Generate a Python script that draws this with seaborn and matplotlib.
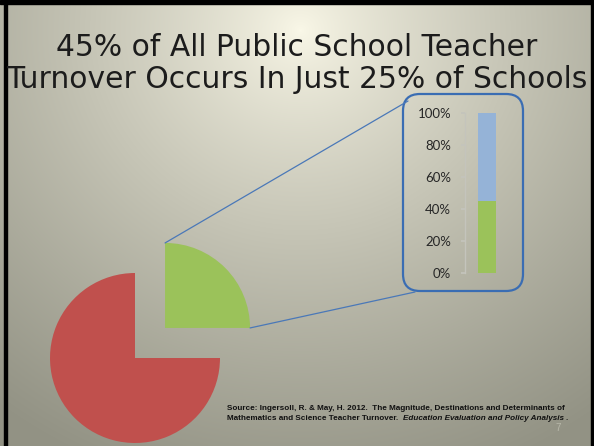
import numpy as np
import pandas as pd
import matplotlib
matplotlib.use("Agg")
import matplotlib.pyplot as plt
import seaborn as sns
from matplotlib.patches import FancyBboxPatch, Rectangle, ConnectionPatch

# ---- data ----
pie_labels = ["Top 25% of schools", "Other 75% of schools"]
pie_values = [25, 75]
bar_category = ["Turnover"]
share_in_top_schools = [0.45]
share_total = [1.00]
ytick_values = [0.0, 0.2, 0.4, 0.6, 0.8, 1.0]
ytick_labels = ["0%", "20%", "40%", "60%", "80%", "100%"]
title_lines = ["45% of All Public School Teacher",
               "Turnover Occurs In Just 25% of Schools"]
source_line1 = "Source: Ingersoll, R. & May, H. 2012.  The Magnitude, Destinations and Determinants of"
source_line2a = "Mathematics and Science Teacher Turnover.  "
source_line2b = "Education Evaluation and Policy Analysis ."

RED = "#c0504d"
GREEN = "#9bc25a"
BLUE = "#95b3d7"
LINE_BLUE = "#4a78b8"

sns.set_theme(style="white")
plt.rcParams["font.family"] = ["Liberation Sans", "DejaVu Sans"]

W, H = 594, 446
fig = plt.figure(figsize=(W / 100, H / 100), dpi=100)

def fx(px):
    return px / W

def fy(py):
    return 1 - py / H

# ---- background gradient ----
bg = fig.add_axes([0, 0, 1, 1], zorder=0)
yy, xx = np.mgrid[0:H, 0:W]
d = np.sqrt(((xx - 300) / 1.0) ** 2 + ((yy - 30) / 0.95) ** 2)
t = np.clip(d / 500.0, 0, 1) ** 0.8
c0 = np.array([250, 248, 232]) / 255.0
c1 = np.array([146, 146, 132]) / 255.0
img = c0[None, None, :] * (1 - t[..., None]) + c1[None, None, :] * t[..., None]
bg.imshow(img, extent=[0, W, H, 0], aspect="auto")
bg.set_xlim(0, W)
bg.set_ylim(H, 0)
bg.axis("off")

# black frame (top, left, right)
bg.add_patch(Rectangle((0, 0), W, 3.5, color="black", zorder=5))
bg.add_patch(Rectangle((4, 0), 3, H, color="black", zorder=5))
bg.add_patch(Rectangle((591, 0), 3, H, color="black", zorder=5))

# ---- title ----
for i, yl in enumerate([48, 80]):
    fig.text(0.5, fy(yl), title_lines[i], ha="center", va="center",
             fontsize=21.4, color="#1c1c1c", zorder=10, family=["DejaVu Sans"])

# ---- pie ----
R = 85.0
cx, cy = 135, 358
xl = (-1.2, 1.8)
pax = fig.add_axes([fx(cx + xl[0] * R), fy(cy - xl[0] * R), fx(3 * R), 3 * R / H], zorder=2)
pax.patch.set_alpha(0)
explode_frac = 0.5
wedges, _ = pax.pie(pie_values, colors=[GREEN, RED], startangle=0, counterclock=True,
                    explode=[explode_frac, 0], radius=1.0,
                    wedgeprops=dict(linewidth=0))
pax.set_xlim(*xl)
pax.set_ylim(*xl)
pax.set_aspect("equal")
pax.axis("off")

# ---- stacked bar ----
bax = fig.add_axes([fx(465), fy(273), 44 / W, 160 / H], zorder=3)
bax.patch.set_alpha(0)
df_total = pd.DataFrame({"cat": bar_category, "v": share_total})
df_top = pd.DataFrame({"cat": bar_category, "v": share_in_top_schools})
sns.barplot(data=df_total, x="cat", y="v", color=BLUE, saturation=1, width=0.41,
            linewidth=0, ax=bax)
sns.barplot(data=df_top, x="cat", y="v", color=GREEN, saturation=1, width=0.41,
            linewidth=0, ax=bax)
bax.set_xlim(-0.5, 0.5)
bax.set_ylim(0, 1)
bax.set_yticks(ytick_values)
bax.set_yticklabels(ytick_labels, fontsize=9.5, color="#262626",
                    family=["Lato", "DejaVu Sans"])
bax.set_xticks([])
bax.set_xlabel("")
bax.set_ylabel("")
for s in ["top", "right", "bottom"]:
    bax.spines[s].set_visible(False)
bax.spines["left"].set_color("#c4c4bc")
bax.spines["left"].set_linewidth(1.0)
bax.tick_params(axis="y", length=3, color="#c4c4bc", pad=7, left=True)

# ---- rounded box around bar chart ----
rad = 17
box = FancyBboxPatch((403 + rad, 94 + rad), 120 - 2 * rad, 197 - 2 * rad,
                     boxstyle=f"round,pad={rad}", transform=bg.transData,
                     facecolor="none", edgecolor="#3a6db3", linewidth=1.6, zorder=6)
bg.add_patch(box)

# ---- connector lines from exploded wedge to box ----
off = explode_frac * np.cos(np.pi / 4)
for (wx, wy), (px, py) in [((off, off + 1.0), (408, 101)),
                           ((off + 1.0, off), (415, 292))]:
    con = ConnectionPatch(xyA=(wx, wy), coordsA=pax.transData,
                          xyB=(px, py), coordsB=bg.transData,
                          color=LINE_BLUE, linewidth=0.9, zorder=4)
    fig.add_artist(con)

# ---- source text ----
FS = 5.9
fig.text(fx(227), fy(408), source_line1, ha="left", va="center",
         fontsize=FS, fontweight="bold", color="#111111", zorder=10)
t1 = fig.text(fx(227), fy(419), source_line2a, ha="left", va="center",
              fontsize=FS, fontweight="bold", color="#111111", zorder=10)
fig.canvas.draw()
bb = t1.get_window_extent()
fig.text(bb.x1 / W, fy(419), source_line2b, ha="left", va="center",
         fontsize=FS, fontweight="bold", style="italic", color="#111111", zorder=10)
fig.text(fx(558), fy(428), "7", ha="center", va="center", fontsize=7,
         color="#b8b8aa", zorder=10)

fig.savefig("out.png", dpi=100)
